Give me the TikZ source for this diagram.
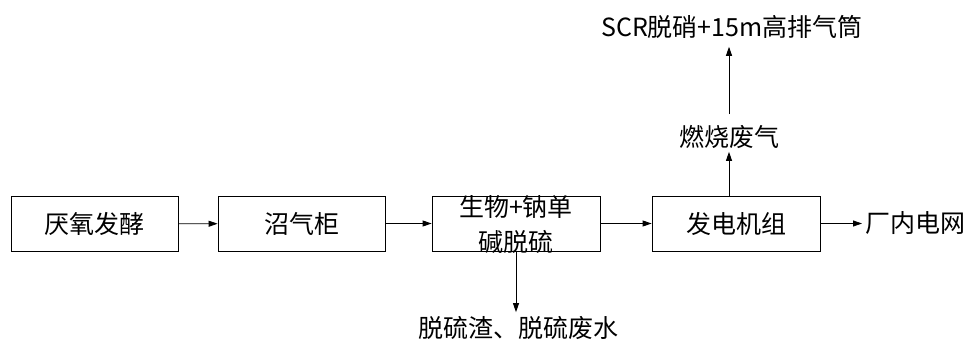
\documentclass[tikz,border=0pt]{standalone}
\usepackage{fontspec}
\setmainfont{Noto Sans CJK SC}
\usetikzlibrary{arrows.meta}
\begin{document}
\begin{tikzpicture}[x=1pt,y=-1pt,
  every node/.style={font=\fontsize{25}{35}\selectfont, text=black},
  procbox/.style={draw=black, line width=0.8pt, minimum height=55pt, inner sep=0pt, align=center},
  lbl/.style={inner sep=3pt},
  arr/.style={-{Triangle[length=9pt,width=6pt]}, line width=0.8pt}]
\useasboundingbox (0,0) rectangle (977,340);
\node[procbox, minimum width=167pt] (b1) at (94.5,224) {厌氧发酵};
\node[procbox, minimum width=167pt] (b2) at (301.5,223.5) {沼气柜};
\node[procbox, minimum width=168pt] (b3) at (516,223.5) {};
\node[align=center, inner sep=0pt] (b3t) at (516,225) {生物+钠单\\碱脱硫};
\node[procbox, minimum width=168pt] (b4) at (736,223.5) {发电机组};
\node[lbl, anchor=west] (grid) at (862,223.5) {厂内电网};
\node[lbl] (gas) at (729,137) {燃烧废气};
\node[lbl] (scr) at (732,27) {SCR脱硝+15m高排气筒};
\node[lbl] (waste) at (518,328) {脱硫渣、脱硫废水};
\draw[arr] (b1) -- (b2);
\draw[arr] (b2) -- (b3);
\draw[arr] (b3) -- (b4);
\draw[arr] (b4) -- (grid);
\draw[arr] (b4.north -| gas) -- (gas.south);
\draw[arr, shorten >=5pt, shorten <=8pt] (gas.north) -- (gas.north |- scr.south);
\draw[arr, shorten >=1pt] (b3.south) -- (b3.south |- waste.north);
\end{tikzpicture}
\end{document}
